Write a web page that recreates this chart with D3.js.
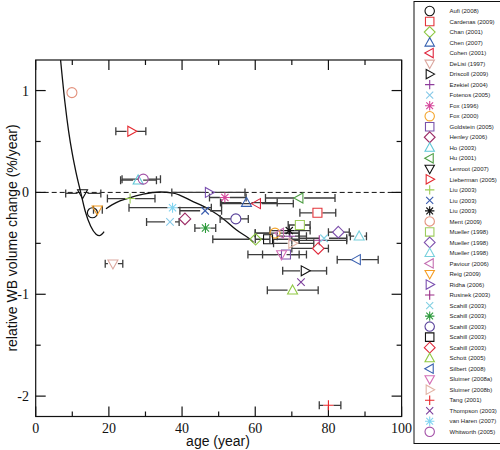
<!DOCTYPE html>
<html><head><meta charset="utf-8">
<script src="https://cdn.jsdelivr.net/npm/d3@7"></script>
<style>body{margin:0;background:#fff}</style>
</head><body><svg id="c" width="500" height="450"></svg>
<script>
const studies = ["Aufi (2008)","Cardenas (2009)","Chan (2001)","Chen (2007)","Cohen (2001)","DeLisi (1997)","Driscoll (2009)","Ezekiel (2004)","Fotenos (2005)","Fox (1996)","Fox (2000)","Goldstein (2005)","Henley (2006)","Ho (2003)","Hu (2001)","Lenroot (2007)","Lieberman (2005)","Liu (2003)","Liu (2003)","Liu (2003)","Ment (2009)","Mueller (1998)","Mueller (1998)","Mueller (1998)","Paviour (2006)","Reig (2009)","Ridha (2006)","Rusinek (2003)","Scahill (2003)","Scahill (2003)","Scahill (2003)","Scahill (2003)","Scahill (2003)","Schott (2005)","Silbert (2008)","Sluimer (2008a)","Sluimer (2008b)","Tang (2001)","Thompson (2003)","van Haren (2007)","Whitworth (2005)"];
const markerTypes = ["circle","square","diamond","up","left","down","right","plus","cross","star"];
const colors = ["#111111","#e3343a","#8cc640","#3560b0","#e0263e","#dba79f","#111111","#8e3d9c","#86c9e8","#d5459a","#f4a42a","#7a52aa","#9c2a64","#5ec6d6","#4f9e45","#111111","#e52a30","#9ccc55","#3a5cae","#111111","#e3917c","#9dcc5c","#7d4fac","#78d0dc","#c46fb2","#f59d24","#7a4fb0","#9a2c86","#82d0e2","#2d9a3c","#58409a","#111111","#e0283a","#8fc843","#3a60b0","#d46fb6","#e2b2a4","#e8262a","#7d3f9c","#82d4f0","#a452a8"];
const ages =    [15.5, 77.0, 60.1, 57.6, 60.4, 21.1, 73.6, 69.5, 36.7, 51.7, 65.4, 68.4, 40.8, 28.0, 72.0, 12.8, 26.2, 25.8, 46.3, 69.3,  9.9, 72.2, 82.7, 88.4, 66.7, 16.8, 47.4, 77.5, 78.8, 46.4, 54.7, 63.5, 77.2, 70.2, 87.7, 67.2, 70.2, 80.0, 72.5, 37.4, 29.4];
const values =  [-0.20,-0.20,-0.46,-0.10,-0.11,-0.70,-0.77,-0.43,-0.29,-0.05,-0.40,-0.61,-0.26, 0.12,-0.055,-0.01, 0.60,-0.06,-0.18,-0.375,0.98,-0.32,-0.39,-0.43,-0.40,-0.17, 0.00,-0.47,-0.45,-0.35,-0.26,-0.46,-0.55,-0.96,-0.66,-0.61,-0.50,-2.09,-0.88,-0.15, 0.13];
const ageLow =  [null, 72.2, 48.4, 50.5, 50.8, 19.0, 67.5, 66.0, 30.3, 47.5, 60.0, 62.0, null, 23.2, 62.8,  8.2, 21.9, 19.6, 39.4, 64.0, null, 69.0, 80.0, 86.0, 60.0, 15.8, 37.2, 70.0, 72.0, 43.5, 50.4, 60.0, 70.0, 63.3, 82.4, 58.0, 65.0, 77.5, null, 25.5, 23.6];
const ageHigh = [null, 82.0, 64.0, 66.0, 70.4, 23.8, 79.5, 74.0, 39.2, 57.5, 72.0, 74.0, null, 33.0, 81.8, 17.8, 30.1, 32.6, 50.8, 75.0, null, 75.0, 85.7, 90.4, 72.0, 18.2, 57.2, 85.0, 85.0, 49.2, 58.1, 72.0, 80.0, 77.2, 93.6, 72.0, 76.0, 83.4, null, 48.0, 34.1];
const fit1Age = [6.8, 8.0, 9.0, 10.0, 11.0, 12.3, 13.5, 15.0, 16.5, 17.4, 18.7];
const fit1Val = [1.3, 0.88, 0.60, 0.38, 0.20, 0.0, -0.18, -0.33, -0.41, -0.425, -0.385];
const fit2Age = [19.2, 22, 25, 29.4, 34, 37.6, 43, 47.6, 51.3, 54.9, 58.6, 59.5];
const fit2Val = [-0.16, -0.10, -0.06, -0.016, 0.004, -0.006, -0.09, -0.17, -0.26, -0.37, -0.46, -0.49];
const xMajor = [0,20,40,60,80,100];
const xMinor = [10,30,50,70,90];
const yMajor = [-2,-1,0,1];
const yMinor = [-1.5,-0.5,0.5];

const svg = d3.select("#c");
const x = d3.scaleLinear().domain([0,100]).range([35.7,401.6]);
const y = d3.scaleLinear().domain([-2.2,1.3]).range([416.5,60]);
const R = 5;

function markerPath(t, r){
  switch(t){
    case "circle": return `M${r},0A${r},${r} 0 1,1 ${-r},0A${r},${r} 0 1,1 ${r},0Z`;
    case "square": {const s=r*0.9; return `M${-s},${-s}H${s}V${s}H${-s}Z`;}
    case "diamond": {const s=r*1.15; return `M0,${-s}L${s},0L0,${s}L${-s},0Z`;}
    case "up": return `M0,${-r*1.05}L${r},${r*0.75}L${-r},${r*0.75}Z`;
    case "down": return `M0,${r*1.05}L${r},${-r*0.75}L${-r},${-r*0.75}Z`;
    case "left": return `M${-r*1.05},0L${r*0.75},${-r}L${r*0.75},${r}Z`;
    case "right": return `M${r*1.05},0L${-r*0.75},${-r}L${-r*0.75},${r}Z`;
    case "plus": return `M${-r},0H${r}M0,${-r}V${r}`;
    case "cross": {const s=r*0.75; return `M${-s},${-s}L${s},${s}M${-s},${s}L${s},${-s}`;}
    case "star": {const s=r*0.72; return `M${-r},0H${r}M0,${-r}V${r}M${-s},${-s}L${s},${s}M${-s},${s}L${s},${-s}`;}
  }
}

// frame
svg.append("rect").attr("x",x(0)).attr("y",y(1.3)).attr("width",x(100)-x(0)).attr("height",y(-2.2)-y(1.3))
  .attr("fill","none").attr("stroke","#111").attr("stroke-width",1.2);

// ticks (inward, all sides)
const tk = svg.append("g").attr("stroke","#111").attr("stroke-width",1.2);
xMajor.concat(xMinor).forEach(v=>{
  const L = xMajor.includes(v)?10:5;
  tk.append("line").attr("x1",x(v)).attr("x2",x(v)).attr("y1",y(-2.2)).attr("y2",y(-2.2)-L);
  tk.append("line").attr("x1",x(v)).attr("x2",x(v)).attr("y1",y(1.3)).attr("y2",y(1.3)+L);
});
yMajor.concat(yMinor).forEach(v=>{
  const L = yMajor.includes(v)?10:5;
  tk.append("line").attr("y1",y(v)).attr("y2",y(v)).attr("x1",x(0)).attr("x2",x(0)+L);
  tk.append("line").attr("y1",y(v)).attr("y2",y(v)).attr("x1",x(100)).attr("x2",x(100)-L);
});
// tick labels
svg.append("g").selectAll("text").data(xMajor).join("text")
  .attr("x",d=>x(d)).attr("y",433).attr("text-anchor","middle")
  .attr("font-family","Liberation Serif, Times New Roman, serif").attr("font-size",14).attr("fill","#111").text(d=>d);
svg.append("g").selectAll("text").data(yMajor).join("text")
  .attr("x",29).attr("y",d=>y(d)+5).attr("text-anchor","end")
  .attr("font-family","Liberation Serif, Times New Roman, serif").attr("font-size",14).attr("fill","#111").text(d=>d);
// axis titles
svg.append("text").attr("x",218).attr("y",446).attr("text-anchor","middle")
  .attr("font-family","Liberation Sans, Arial, sans-serif").attr("font-size",14).attr("fill","#111").text("age (year)");
svg.append("text").attr("transform","translate(17,238) rotate(-90)").attr("text-anchor","middle")
  .attr("font-family","Liberation Sans, Arial, sans-serif").attr("font-size",14).attr("fill","#111").text("relative WB volume change (%/year)");

// zero dashed line
svg.append("line").attr("x1",x(0)).attr("x2",x(100)).attr("y1",y(0)).attr("y2",y(0))
  .attr("stroke","#111").attr("stroke-width",1).attr("stroke-dasharray","5,3");

// fit curves
const line = d3.line().x(d=>x(d[0])).y(d=>y(d[1])).curve(d3.curveMonotoneX);
svg.append("path").attr("d",line(fit1Age.map((a,i)=>[a,fit1Val[i]]))).attr("fill","none").attr("stroke","#111").attr("stroke-width",1.3);
svg.append("path").attr("d",line(fit2Age.map((a,i)=>[a,fit2Val[i]]))).attr("fill","none").attr("stroke","#111").attr("stroke-width",1.3);

// error bars
const eb = svg.append("g").attr("stroke","#3c3c3c").attr("stroke-width",1.3).attr("fill","none");
studies.forEach((s,i)=>{
  if(ageLow[i]==null) return;
  const cx=x(ages[i]), cy=y(values[i]), x0=x(ageLow[i]), x1=x(ageHigh[i]);
  let d = `M${x0},${cy-4}V${cy+4}M${x1},${cy-4}V${cy+4}`;
  if(cx-R > x0) d += `M${x0},${cy}H${cx-R}`;
  if(cx+R < x1) d += `M${cx+R},${cy}H${x1}`;
  eb.append("path").attr("d",d);
});

// markers
svg.append("g").selectAll("path").data(studies).join("path")
  .attr("transform",(d,i)=>`translate(${x(ages[i])},${y(values[i])})`)
  .attr("d",(d,i)=>markerPath(markerTypes[i%10],R))
  .attr("fill","none").attr("stroke",(d,i)=>colors[i]).attr("stroke-width",1.1);

// legend
const lg = svg.append("g");
lg.append("rect").attr("x",414).attr("y",1.5).attr("width",100).attr("height",442).attr("fill","#fff").attr("stroke","#111").attr("stroke-width",1);
const rowY = i => 11 + i*10.52;
lg.selectAll("path").data(studies).join("path")
  .attr("transform",(d,i)=>`translate(429.7,${rowY(i)})`)
  .attr("d",(d,i)=>markerPath(markerTypes[i%10],4.7))
  .attr("fill","none").attr("stroke",(d,i)=>colors[i]).attr("stroke-width",1.1);
lg.selectAll("text").data(studies).join("text")
  .attr("x",449.5).attr("y",(d,i)=>rowY(i)+2.2)
  .attr("font-family","Liberation Sans, Arial, sans-serif").attr("font-size",6).attr("fill","#222").text(d=>d);
</script></body></html>
